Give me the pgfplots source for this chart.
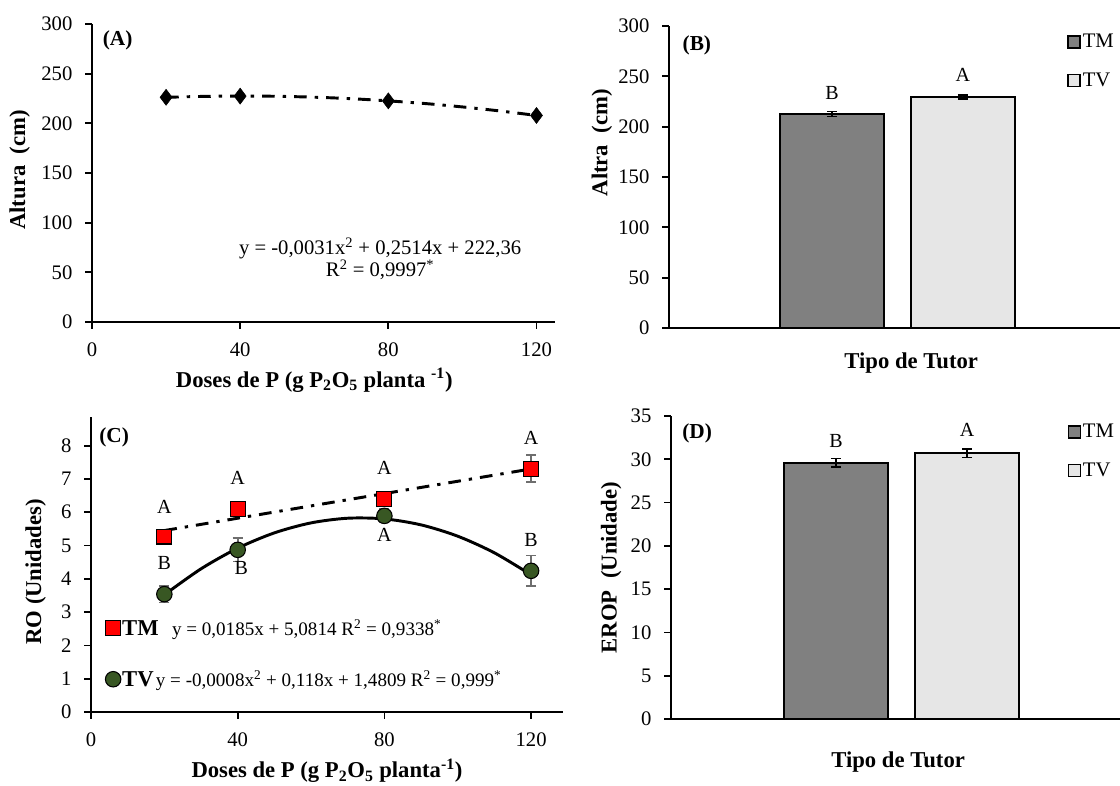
\documentclass[border=0pt]{standalone}
\usepackage{fontspec}
\setmainfont{Liberation Serif}
\usepackage{pgfplots}
\pgfplotsset{compat=1.18}

\definecolor{tmgray}{HTML}{808080}
\definecolor{tvgray}{HTML}{E6E6E6}
\definecolor{tmred}{HTML}{FF0000}
\definecolor{tvgreen}{HTML}{385723}
\definecolor{errgray}{HTML}{6E6E6E}

\tikzset{
  lettr/.style={font=\fontsize{15}{17}\selectfont},
  tag/.style={font=\bfseries\fontsize{16}{18}\selectfont},
  trend/.style={black,line width=2.2pt,dash pattern=on 9.5pt off 6pt on 2.5pt off 6pt},
}

\pgfplotsset{
  panel/.style={
    scale only axis,
    anchor=south west,
    axis x line*=bottom,
    axis y line*=left,
    axis line style={line width=1.35pt,-},
    tick style={line width=1.35pt,black},
    tick align=outside,
    major tick length=5.2pt,
    tick label style={font=\fontsize{15.5}{17}\selectfont},
    yticklabel style={xshift=-6pt},
    xticklabel style={yshift=-6.5pt},
    /pgf/number format/assume math mode=true,
    label style={font=\bfseries\fontsize{17}{20}\selectfont},
    ylabel style={anchor=center},
    xlabel style={anchor=center},
    clip=false,
  },
  barlegend/.style={
    legend style={draw=none,fill=none,font=\fontsize{15.5}{18}\selectfont,
      row sep=14pt,inner sep=0pt,anchor=north west,
      nodes={inner sep=1.5pt}},
    legend cell align=left,
  },
  barerr/.style={
    error bars/.cd,y dir=both,y explicit,
    error bar style={line width=1.3pt},
    error mark options={rotate=90,line width=1.3pt,mark size=3.8pt},
  },
  doterr/.style={
    error bars/.cd,y dir=both,y explicit,
    error bar style={errgray,line width=1.2pt},
    error mark options={rotate=90,errgray,line width=1.2pt,mark size=3.8pt},
  },
}

\begin{document}
\begin{tikzpicture}
\useasboundingbox (0,0) rectangle (840pt,588.75pt);

% ---------- (A) plant height vs P dose ----------
\begin{axis}[panel,
  at={(69pt,347.25pt)}, width=347.25pt, height=223.5pt,
  xmin=0, xmax=125, ymin=0, ymax=300,
  xtick={0,40,80,120}, ytick={0,50,...,300},
  xlabel={Doses de P (g P\textsubscript{2}O\textsubscript{5} planta \textsuperscript{-1})},
  ylabel={Altura\ \ (cm)},
  xlabel style={at={(axis description cs:0.48,-0.195)}},
  ylabel style={at={(axis description cs:-0.156,0.51)}},
]
\addplot[trend,smooth] coordinates {
  (20,226.2) (30,227.1) (40,227.5) (50,227.2) (60,226.3) (70,224.8)
  (80,222.6) (90,219.9) (100,216.5) (110,212.5) (120,207.9)};
\addplot[only marks,mark=diamond*,mark size=6pt,black] coordinates {
  (20,226.2) (40,227.4) (80,222.6) (120,207.9)};
\node[tag] at (axis cs:6.9,283.4) {(A)};
\node[align=center,font=\fontsize{15.5}{16.5}\selectfont] at (axis cs:77.8,64)
  {y = -0,0031x\textsuperscript{2} + 0,2514x + 222,36\\
   R\textsuperscript{2} = 0,9997\textsuperscript{*}};
\end{axis}

% ---------- (B) plant height by stake type ----------
\begin{axis}[panel,barlegend,
  at={(501.75pt,342.75pt)}, width=342.75pt, height=226.5pt,
  xmin=0, xmax=1, ymin=0, ymax=300,
  xtick=\empty, ytick={0,50,...,300},
  xlabel={Tipo de Tutor}, ylabel={Altra\ \ (cm)},
  xlabel style={at={(axis description cs:0.53,-0.116)}},
  ylabel style={at={(axis description cs:-0.147,0.613)}},
  legend style={at={(axis description cs:0.871,0.98)}},
]
\addplot[ybar,bar shift=0pt,bar width=78pt,fill=tmgray,draw=black,line width=1.3pt,
  legend image code/.code={\draw[fill=tmgray,draw=black,line width=1.1pt] (0pt,-4.5pt) rectangle (9pt,4.5pt);},
  barerr]
  coordinates {(0.357,212.5) +- (0,2.5)};
\addlegendentry{TM}
\addplot[ybar,bar shift=0pt,bar width=78pt,fill=tvgray,draw=black,line width=1.3pt,
  legend image code/.code={\draw[fill=tvgray,draw=black,line width=1.1pt] (0pt,-4.5pt) rectangle (9pt,4.5pt);},
  barerr]
  coordinates {(0.643,229.8) +- (0,2.0)};
\addlegendentry{TV}
\node[tag] at (axis cs:0.061,281) {(B)};
\node[lettr] at (axis cs:0.357,233.4) {B};
\node[lettr] at (axis cs:0.643,251.3) {A};
\end{axis}

% ---------- (C) RO vs P dose ----------
\begin{axis}[panel,
  at={(68.25pt,54.75pt)}, width=354pt, height=221.25pt,
  xmin=0, xmax=128.7, ymin=0, ymax=8.86,
  xtick={0,40,80,120}, ytick={0,1,...,8},
  xlabel={Doses de P (g P\textsubscript{2}O\textsubscript{5} planta\textsuperscript{-1})},
  ylabel={RO (Unidades)},
  xlabel style={at={(axis description cs:0.5,-0.2)}},
  ylabel style={at={(axis description cs:-0.117,0.475)}},
  legend style={at={(axis description cs:0.03,0.32)},anchor=north west,
    draw=none,fill=none,row sep=23pt,inner sep=0pt,nodes={inner sep=1pt}},
  legend cell align=left,
]
\addplot[trend,forget plot] coordinates {(20,5.45) (120,7.30)};
\addplot[black,line width=2.2pt,smooth,forget plot] coordinates {
  (20,3.52) (30,4.30) (40,4.92) (50,5.38) (60,5.68) (70,5.82)
  (80,5.80) (90,5.62) (100,5.28) (110,4.78) (120,4.12)};
\addplot[only marks,mark=square*,mark size=5.6pt,
  mark options={fill=tmred,draw=black,line width=0.8pt},doterr]
  coordinates {(20,5.27) +- (0,0.12) (40,6.10) +- (0,0.12)
               (80,6.40) +- (0,0.15) (120,7.31) +- (0,0.41)};
\addlegendentry{\textbf{\fontsize{17}{18}\selectfont TM}\hspace{10pt}{\fontsize{14.3}{16}\selectfont y = 0,0185x + 5,0814 R\textsuperscript{2} = 0,9338\textsuperscript{*}}}
\addplot[only marks,mark=*,mark size=5.8pt,
  mark options={fill=tvgreen,draw=black,line width=0.8pt},doterr]
  coordinates {(20,3.54) +- (0,0.25) (40,4.87) +- (0,0.35)
               (80,5.89) +- (0,0.20) (120,4.24) +- (0,0.46)};
\addlegendentry{\textbf{\fontsize{17}{18}\selectfont TV}\,{\fontsize{14.3}{16}\selectfont y = -0,0008x\textsuperscript{2} + 0,118x + 1,4809 R\textsuperscript{2} = 0,999\textsuperscript{*}}}
\node[tag] at (axis cs:6.3,8.24) {(C)};
\node[lettr] at (axis cs:20,6.15) {A};
\node[lettr] at (axis cs:40,7.03) {A};
\node[lettr] at (axis cs:80,7.33) {A};
\node[lettr] at (axis cs:120,8.24) {A};
\node[lettr] at (axis cs:20,4.48) {B};
\node[lettr] at (axis cs:41,4.33) {B};
\node[lettr] at (axis cs:80,5.32) {A};
\node[lettr] at (axis cs:120,5.17) {B};
\end{axis}

% ---------- (D) EROP by stake type ----------
\begin{axis}[panel,barlegend,
  at={(503.25pt,49.5pt)}, width=342.75pt, height=227.25pt,
  xmin=0, xmax=1, ymin=0, ymax=35,
  xtick=\empty, ytick={0,5,...,35},
  xlabel={Tipo de Tutor}, ylabel={EROP\ \ (Unidade)},
  xlabel style={at={(axis description cs:0.497,-0.142)}},
  ylabel style={at={(axis description cs:-0.131,0.50)}},
  legend style={at={(axis description cs:0.867,0.98)}},
]
\addplot[ybar,bar shift=0pt,bar width=78pt,fill=tmgray,draw=black,line width=1.3pt,
  legend image code/.code={\draw[fill=tmgray,draw=black,line width=1.1pt] (0pt,-4.5pt) rectangle (9pt,4.5pt);},
  barerr]
  coordinates {(0.361,29.6) +- (0,0.5)};
\addlegendentry{TM}
\addplot[ybar,bar shift=0pt,bar width=78pt,fill=tvgray,draw=black,line width=1.3pt,
  legend image code/.code={\draw[fill=tvgray,draw=black,line width=1.1pt] (0pt,-4.5pt) rectangle (9pt,4.5pt);},
  barerr]
  coordinates {(0.648,30.7) +- (0,0.5)};
\addlegendentry{TV}
\node[tag] at (axis cs:0.057,33.0) {(D)};
\node[lettr] at (axis cs:0.361,32.1) {B};
\node[lettr] at (axis cs:0.648,33.4) {A};
\end{axis}
\end{tikzpicture}
\end{document}
